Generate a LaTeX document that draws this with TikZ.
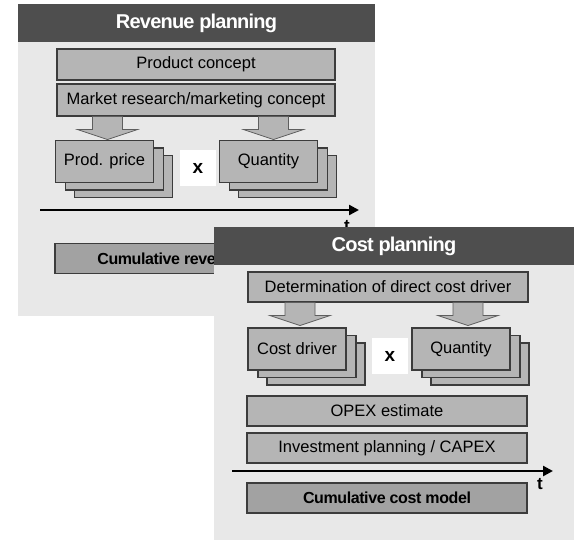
\documentclass[tikz,border=0pt]{standalone}
\usepackage{fontspec}
\setmainfont{Liberation Sans}
\usetikzlibrary{arrows.meta,calc,shadows}

\definecolor{headgrey}{HTML}{4E4E4E}
\definecolor{panelgrey}{HTML}{E8E8E8}
\definecolor{boxgrey}{HTML}{B5B5B5}
\definecolor{sumgrey}{HTML}{A2A2A2}
\definecolor{boxline}{HTML}{3C3C3C}
\definecolor{arrowline}{HTML}{5E5E5E}

\newcommand\rpbody{\fontsize{16.5}{19}\selectfont}
\newcommand\rphead{\fontsize{20}{24}\selectfont\bfseries\addfontfeature{LetterSpace=-4}}
\newcommand\rpsum{\fontsize{16}{19}\selectfont\bfseries\addfontfeature{LetterSpace=-2.5}}
\newcommand\rptimes{\fontsize{19}{22}\selectfont\bfseries}
\newcommand\rpt{\fontsize{17}{20}\selectfont\bfseries}

\tikzset{
  panel/.style={fill=panelgrey, draw=none, inner sep=0pt},
  header/.style={fill=headgrey, draw=none, text=white, font=\rphead, inner sep=0pt},
  bar/.style={fill=boxgrey, draw=boxline, line width=1.1pt, font=\rpbody,
    inner sep=0pt, minimum width=280pt, minimum height=30pt},
  sumbar/.style={bar, fill=sumgrey, font=\rpsum},
  stackbox/.style={bar, minimum width=98pt, minimum height=42pt,
    copy shadow={shadow xshift=19pt, shadow yshift=-15pt},
    copy shadow={shadow xshift=10pt, shadow yshift=-7.5pt}},
  timesbox/.style={fill=white, draw=none, minimum size=36pt, font=\rptimes, inner sep=0pt},
  timeline/.style={line width=2.4pt, -{Triangle[length=10pt,width=10pt]}},
  tlabel/.style={font=\rpt, inner sep=0pt},
  blockarrow/.style={fill=boxgrey, draw=arrowline, line width=0.8pt},
}

% block arrow hanging down from the given point
\newcommand\blockarrow[1]{%
  \draw[blockarrow] let \p1=(#1) in
    ({\x1-15pt},\y1) -- ({\x1+15pt},\y1) -- ({\x1+15pt},{\y1-13pt})
    -- ({\x1+30pt},{\y1-13pt}) -- (\x1,{\y1-23pt}) -- ({\x1-30pt},{\y1-13pt})
    -- ({\x1-15pt},{\y1-13pt}) -- cycle;}

\begin{document}
\begin{tikzpicture}[x=1pt,y=-1pt]
  \useasboundingbox (0,0) rectangle (583,542);

  % ---------------- revenue planning ----------------
  \node[panel, minimum width=357pt, minimum height=312pt] (revpanel) at (196.5,160) {};
  \node[header, minimum width=357pt, minimum height=38pt] (revhead) at (196.5,23) {Revenue planning};

  \node[bar, minimum width=278pt, minimum height=31pt] (concept) at (196,64.5) {Product concept};
  \node[bar, minimum width=278pt, minimum height=32pt] (market) at (196,100) {Market research/marketing concept};

  \node[stackbox] (price) at (104.5,161.5) {Prod. price};
  \node[stackbox] (qtyrev) at (268.5,161.5) {Quantity};
  \node[timesbox] (timesrev) at (198,168) {x};

  \coordinate (arrprice) at ($(market.south -| price.north)+(3,0)$);
  \coordinate (arrqtyrev) at ($(market.south -| qtyrev.north)+(5,0)$);
  \blockarrow{arrprice}
  \blockarrow{arrqtyrev}

  \coordinate (revt0) at (40,210);
  \coordinate (revt1) at (359,210);
  \draw[timeline] (revt0) -- (revt1);
  \node[tlabel] (revt) at (347,226) {t};

  \node[sumbar] (cumrev) at (195,258.5) {Cumulative revenue model};

  % ---------------- cost planning ----------------
  \node[panel, minimum width=360pt, minimum height=313pt] (costpanel) at (394,383.5) {};
  \node[header, minimum width=360pt, minimum height=38pt] (costhead) at (394,246) {Cost planning};

  \node[bar] (driverdet) at (388,287) {Determination of direct cost driver};

  \node[stackbox] (driver) at (297,349) {Cost driver};
  \node[stackbox] (qtycost) at (461,349) {Quantity};
  \node[timesbox] (timescost) at (390,356) {x};

  \coordinate (arrdriver) at ($(driverdet.south -| driver.north)+(3,0)$);
  \coordinate (arrqtycost) at ($(driverdet.south -| qtycost.north)+(7,0)$);
  \blockarrow{arrdriver}
  \blockarrow{arrqtycost}

  \node[bar] (opex) at (387,411) {OPEX estimate};
  \node[bar] (capex) at (387,448) {Investment planning / CAPEX};

  \coordinate (costt0) at (232,471);
  \coordinate (costt1) at (553,471);
  \draw[timeline] (costt0) -- (costt1);
  \node[tlabel] (costt) at (540,484) {t};

  \node[sumbar] (cumcost) at (387,498) {Cumulative cost model};
\end{tikzpicture}
\end{document}
